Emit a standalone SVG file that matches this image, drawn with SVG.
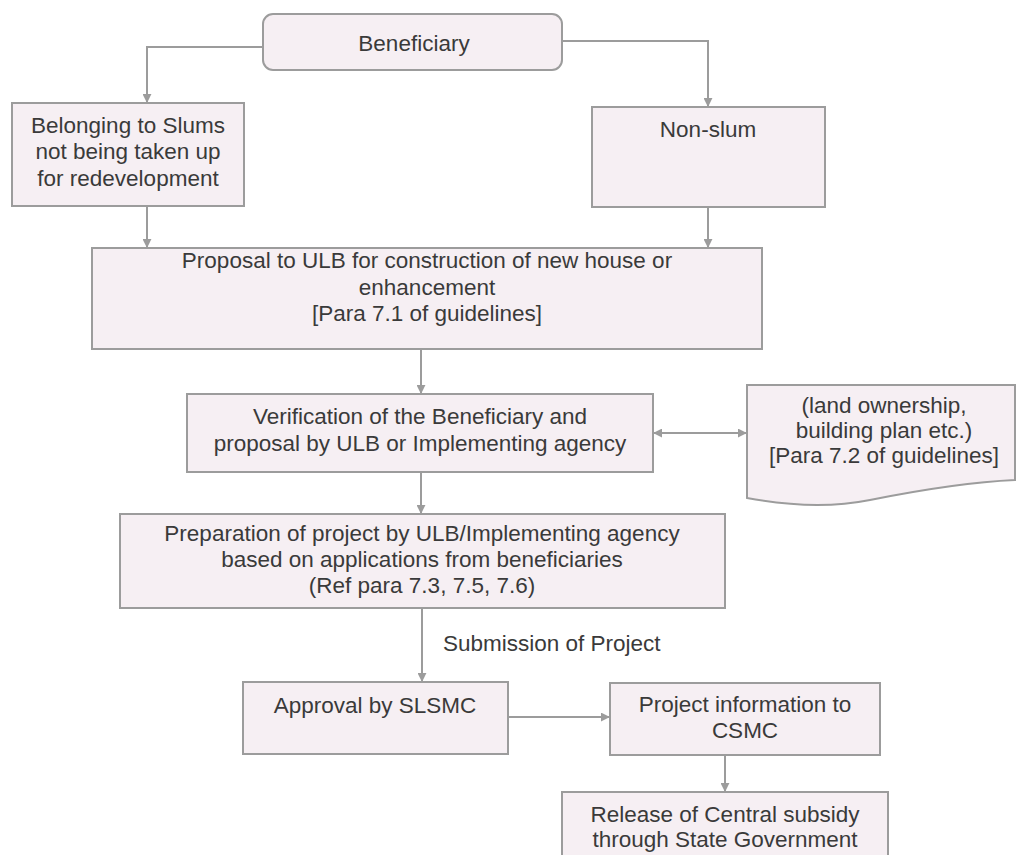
<svg xmlns="http://www.w3.org/2000/svg" width="1020" height="855" viewBox="0 0 1020 855">
<style>
.box{fill:#f6eff3;stroke:#9c9c9c;stroke-width:2}
.t{font-family:"Liberation Sans",Arial,sans-serif;font-size:22.5px;fill:#3a3a3a;text-anchor:middle}
.ts{font-family:"Liberation Sans",Arial,sans-serif;font-size:22.5px;fill:#3a3a3a}
.c{fill:none;stroke:#9c9c9c;stroke-width:2}
</style>
<defs>
<marker id="ah" viewBox="0 0 10 10" refX="9" refY="5" markerWidth="4.5" markerHeight="4.5" orient="auto-start-reverse" markerUnits="strokeWidth">
<path d="M0,0 L10,5 L0,10 Z" fill="#9c9c9c"/>
</marker>
</defs>
<rect width="1020" height="855" fill="#ffffff"/>
<g id="connectors">
<path class="c" d="M263,47 H147 V102" marker-end="url(#ah)"/>
<path class="c" d="M562,41 H708 V106" marker-end="url(#ah)"/>
<path class="c" d="M147,206 V247" marker-end="url(#ah)"/>
<path class="c" d="M708,207 V247" marker-end="url(#ah)"/>
<path class="c" d="M421,349 V393" marker-end="url(#ah)"/>
<path class="c" d="M654,433 H746" marker-start="url(#ah)" marker-end="url(#ah)"/>
<path class="c" d="M421,472 V513" marker-end="url(#ah)"/>
<path class="c" d="M422,608 V681" marker-end="url(#ah)"/>
<path class="c" d="M508,717 H609" marker-end="url(#ah)"/>
<path class="c" d="M725,755 V791" marker-end="url(#ah)"/>
<text class="ts" x="443" y="651">Submission of Project</text>
</g>
<g id="beneficiary">
<rect class="box" x="263" y="14" width="299" height="56" rx="10"/>
<text class="t" x="414" y="51">Beneficiary</text>
</g>
<g id="slums">
<rect class="box" x="12" y="103" width="232" height="103"/>
<text class="t" x="128" y="133">Belonging to Slums</text>
<text class="t" x="128" y="159">not being taken up</text>
<text class="t" x="128" y="186">for redevelopment</text>
</g>
<g id="nonslum">
<rect class="box" x="592" y="107" width="233" height="100"/>
<text class="t" x="708" y="137">Non-slum</text>
</g>
<g id="proposal">
<rect class="box" x="92" y="248" width="670" height="101"/>
<text class="t" x="427" y="268">Proposal to ULB for construction of new house or</text>
<text class="t" x="427" y="295">enhancement</text>
<text class="t" x="427" y="321">[Para 7.1 of guidelines]</text>
</g>
<g id="verification">
<rect class="box" x="187" y="394" width="466" height="78"/>
<text class="t" x="420" y="424">Verification of the Beneficiary and</text>
<text class="t" x="420" y="451">proposal by ULB or Implementing agency</text>
</g>
<g id="documents">
<path class="box" d="M747,385 H1015 V480 C970,482 920,490 870,500 C830,508 790,506 747,498 Z"/>
<text class="t" x="884" y="413">(land ownership,</text>
<text class="t" x="884" y="438">building plan etc.)</text>
<text class="t" x="884" y="463">[Para 7.2 of guidelines]</text>
</g>
<g id="preparation">
<rect class="box" x="120" y="514" width="605" height="94"/>
<text class="t" x="422" y="541">Preparation of project by ULB/Implementing agency</text>
<text class="t" x="422" y="567">based on applications from beneficiaries</text>
<text class="t" x="422" y="593">(Ref para 7.3, 7.5, 7.6)</text>
</g>
<g id="approval">
<rect class="box" x="243" y="682" width="265" height="72"/>
<text class="t" x="375" y="713">Approval by SLSMC</text>
</g>
<g id="projectinfo">
<rect class="box" x="610" y="683" width="270" height="72"/>
<text class="t" x="745" y="712">Project information to</text>
<text class="t" x="745" y="738">CSMC</text>
</g>
<g id="release">
<rect class="box" x="562" y="792" width="326" height="70"/>
<text class="t" x="725" y="822">Release of Central subsidy</text>
<text class="t" x="725" y="847">through State Government</text>
</g>
</svg>
